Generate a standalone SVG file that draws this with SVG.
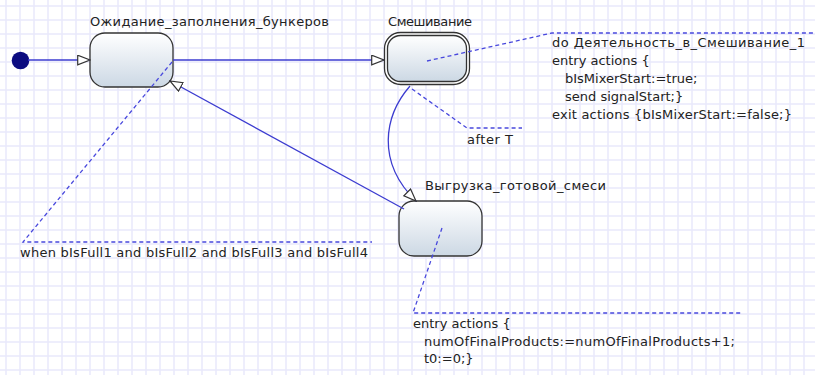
<svg xmlns="http://www.w3.org/2000/svg" width="815" height="375" viewBox="0 0 815 375">
<style>
.lbl{font-family:"DejaVu Sans","Noto Sans",sans-serif;font-size:13px;fill:#222}
.st{stroke:#333;stroke-width:1.3}
.tr{fill:none;stroke:#3c3cd0;stroke-width:1.3}
.nl{fill:none;stroke:#4848dd;stroke-width:1.3;stroke-dasharray:4 3}
</style>
<defs>
<pattern id="grid" x="0" y="0" width="14" height="14" patternUnits="userSpaceOnUse">
<path d="M6 0V14M0 6H14" stroke="#e9e9fb" stroke-width="1.5" fill="none"/>
</pattern>
<linearGradient id="ng" x1="0" y1="0" x2="0" y2="1">
<stop offset="0" stop-color="#ffffff"/>
<stop offset="1" stop-color="#ccd8e4"/>
</linearGradient>
<marker id="ah" markerWidth="14" markerHeight="12" refX="13" refY="5.5" orient="auto" markerUnits="userSpaceOnUse">
<path d="M0.7 0.7L13 5.5L0.7 10.3Z" fill="#fff" stroke="#333" stroke-width="1.2"/>
</marker>
</defs>
<rect width="815" height="375" fill="#fff"/>
<rect width="815" height="375" fill="url(#grid)"/>

<g id="initial">
<circle cx="20.5" cy="60.5" r="8.8" fill="#0c0c80"/>
</g>

<g id="node-ozhidanie">
<rect class="st" x="90" y="33" width="83" height="54" rx="15" fill="url(#ng)"/>
<text class="lbl" x="90" y="26" textLength="239">Ожидание_заполнения_бункеров</text>
</g>

<g id="node-smeshivanie">
<rect class="st" x="384.5" y="32.5" width="85" height="52" rx="16" fill="#fff"/>
<rect class="st" x="387.5" y="35.5" width="79" height="46" rx="13" fill="url(#ng)"/>
<text class="lbl" x="388" y="26" textLength="84">Смешивание</text>
</g>

<g id="node-vygruzka">
<rect class="st" x="399" y="201" width="83" height="55" rx="15" fill="url(#ng)"/>
<text class="lbl" x="425" y="190" textLength="181">Выгрузка_готовой_смеси</text>
</g>

<g id="connectors">
<line class="tr" x1="28" y1="60" x2="90" y2="60" marker-end="url(#ah)"/>
<line class="tr" x1="173" y1="60" x2="384" y2="60" marker-end="url(#ah)"/>
<path class="tr" d="M410 86C384 116 376 162 416 201" marker-end="url(#ah)"/>
<line class="tr" x1="404" y1="209" x2="170" y2="81" marker-end="url(#ah)"/>
<polyline class="nl" points="172,62 23,242 372,242"/>
<polyline class="nl" points="427,61 552,33 815,33"/>
<polyline class="nl" points="412,89 467,128 522,128"/>
<polyline class="nl" points="442,228 413,313 743,313"/>
</g>

<g id="note-when">
<text class="lbl" x="20" y="257" textLength="348">when bIsFull1 and bIsFull2 and bIsFull3 and bIsFull4</text>
</g>

<g id="note-smeshivanie">
<text class="lbl" x="552" y="47" textLength="253">do Деятельность_в_Смешивание_1</text>
<text class="lbl" x="552" y="65">entry actions {</text>
<text class="lbl" x="565" y="83">bIsMixerStart:=true;</text>
<text class="lbl" x="565" y="101">send signalStart;}</text>
<text class="lbl" x="552" y="119" textLength="240">exit actions {bIsMixerStart:=false;}</text>
</g>

<g id="note-afterT">
<text class="lbl" x="467" y="144" textLength="46">after T</text>
</g>

<g id="note-vygruzka">
<text class="lbl" x="413" y="328">entry actions {</text>
<text class="lbl" x="424" y="346" textLength="311">numOfFinalProducts:=numOfFinalProducts+1;</text>
<text class="lbl" x="424" y="363">t0:=0;}</text>
</g>
</svg>
